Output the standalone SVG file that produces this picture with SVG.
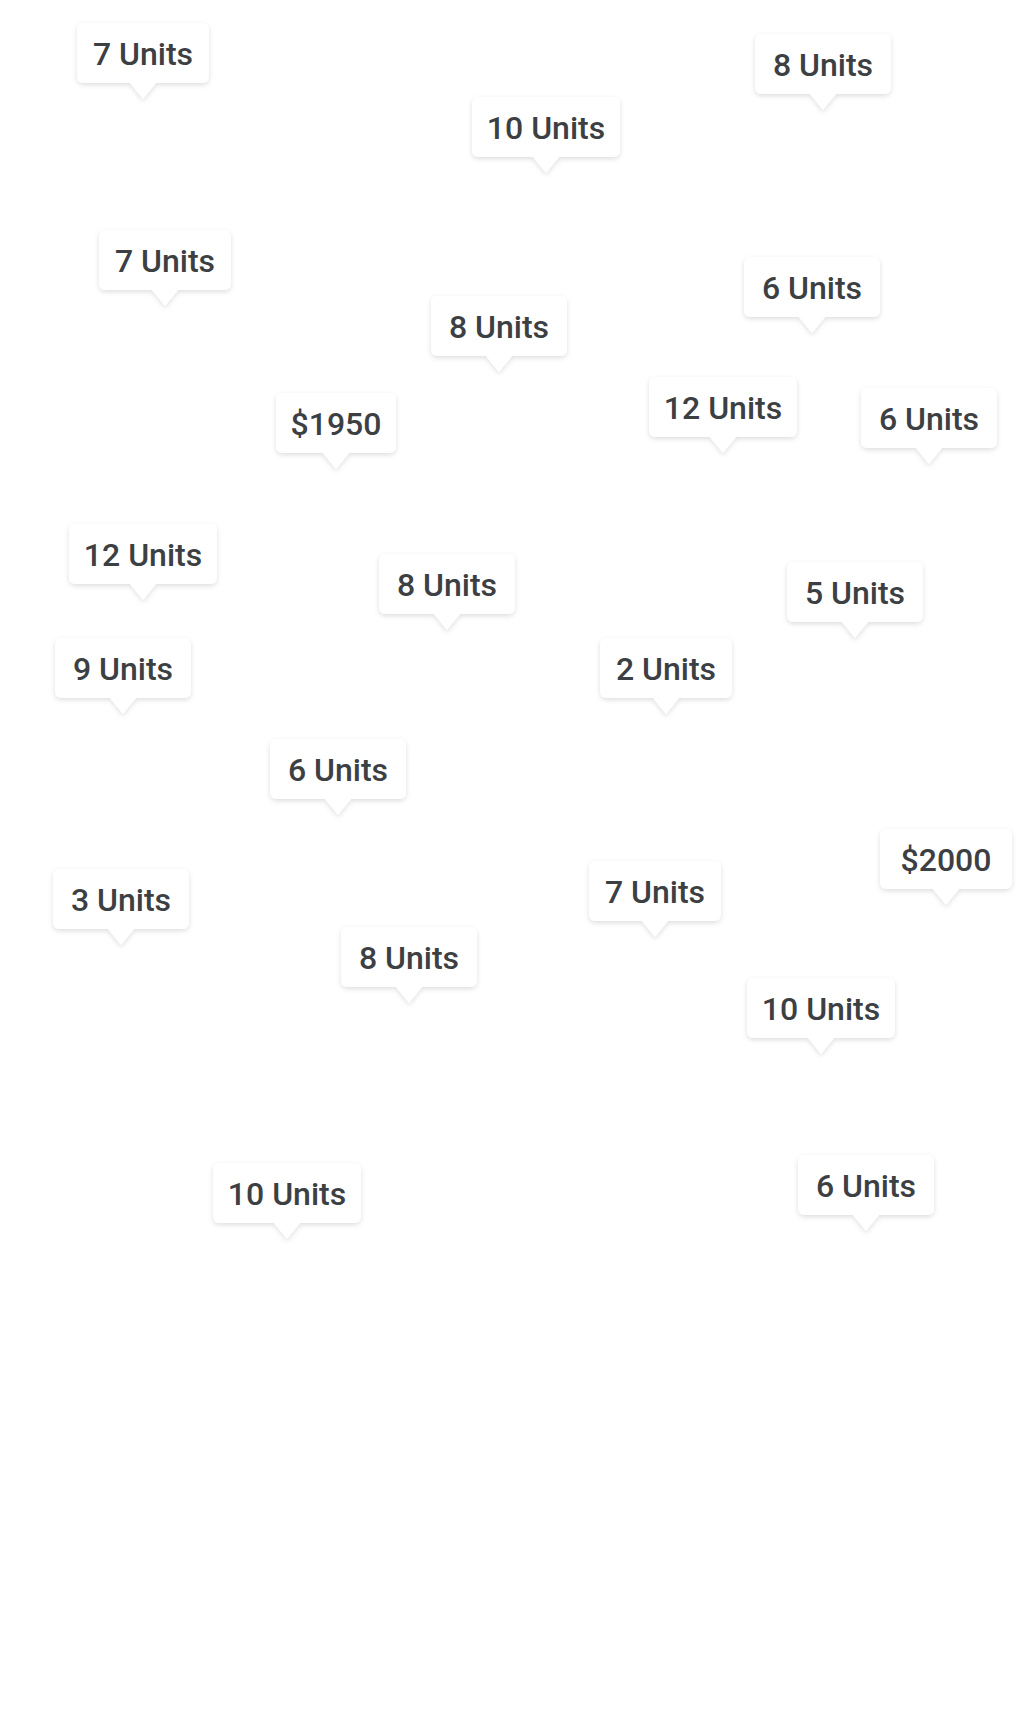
<svg xmlns="http://www.w3.org/2000/svg" xmlns:xlink="http://www.w3.org/1999/xlink" width="1024" height="1732" viewBox="0 0 1024 1732">
<style>
.bub{fill:#ffffff;filter:url(#sh)}
.t{font-family:Roboto,"Open Sans","Liberation Sans",sans-serif;font-size:32px;font-weight:500;fill:#3c4043;text-anchor:middle}
</style>
<defs>
<filter id="sh" x="-20%" y="-20%" width="140%" height="150%">
<feDropShadow dx="0" dy="2" stdDeviation="2.5" flood-color="#000" flood-opacity="0.13"/>
</filter>
<path id="b132" d="M7,0 H125 Q132,0 132,7 V53 Q132,60 125,60 H79 L66,76 L53,60 H7 Q0,60 0,53 V7 Q0,0 7,0 Z"/>
<path id="b136" d="M7,0 H129 Q136,0 136,7 V53 Q136,60 129,60 H81 L68,76 L55,60 H7 Q0,60 0,53 V7 Q0,0 7,0 Z"/>
<path id="b148" d="M7,0 H141 Q148,0 148,7 V53 Q148,60 141,60 H87 L74,76 L61,60 H7 Q0,60 0,53 V7 Q0,0 7,0 Z"/>
<path id="b120" d="M7,0 H113 Q120,0 120,7 V53 Q120,60 113,60 H73 L60,76 L47,60 H7 Q0,60 0,53 V7 Q0,0 7,0 Z"/>
</defs>
<rect width="1024" height="1732" fill="#ffffff"/>
<g id="connectors"/>
<g id="n1" transform="translate(77,23)"><use href="#b132" class="bub"/><text class="t" x="66" y="42">7 Units</text></g>
<g id="n2" transform="translate(755,34)"><use href="#b136" class="bub"/><text class="t" x="68" y="42">8 Units</text></g>
<g id="n3" transform="translate(472,97)"><use href="#b148" class="bub"/><text class="t" x="74" y="42">10 Units</text></g>
<g id="n4" transform="translate(99,230)"><use href="#b132" class="bub"/><text class="t" x="66" y="42">7 Units</text></g>
<g id="n5" transform="translate(744,257)"><use href="#b136" class="bub"/><text class="t" x="68" y="42">6 Units</text></g>
<g id="n6" transform="translate(431,296)"><use href="#b136" class="bub"/><text class="t" x="68" y="42">8 Units</text></g>
<g id="n7" transform="translate(276,393)"><use href="#b120" class="bub"/><text class="t" x="60" y="42">$1950</text></g>
<g id="n8" transform="translate(649,377)"><use href="#b148" class="bub"/><text class="t" x="74" y="42">12 Units</text></g>
<g id="n9" transform="translate(861,388)"><use href="#b136" class="bub"/><text class="t" x="68" y="42">6 Units</text></g>
<g id="n10" transform="translate(69,524)"><use href="#b148" class="bub"/><text class="t" x="74" y="42">12 Units</text></g>
<g id="n11" transform="translate(379,554)"><use href="#b136" class="bub"/><text class="t" x="68" y="42">8 Units</text></g>
<g id="n12" transform="translate(787,562)"><use href="#b136" class="bub"/><text class="t" x="68" y="42">5 Units</text></g>
<g id="n13" transform="translate(55,638)"><use href="#b136" class="bub"/><text class="t" x="68" y="42">9 Units</text></g>
<g id="n14" transform="translate(600,638)"><use href="#b132" class="bub"/><text class="t" x="66" y="42">2 Units</text></g>
<g id="n15" transform="translate(270,739)"><use href="#b136" class="bub"/><text class="t" x="68" y="42">6 Units</text></g>
<g id="n16" transform="translate(53,869)"><use href="#b136" class="bub"/><text class="t" x="68" y="42">3 Units</text></g>
<g id="n17" transform="translate(589,861)"><use href="#b132" class="bub"/><text class="t" x="66" y="42">7 Units</text></g>
<g id="n18" transform="translate(880,829)"><use href="#b132" class="bub"/><text class="t" x="66" y="42">$2000</text></g>
<g id="n19" transform="translate(341,927)"><use href="#b136" class="bub"/><text class="t" x="68" y="42">8 Units</text></g>
<g id="n20" transform="translate(747,978)"><use href="#b148" class="bub"/><text class="t" x="74" y="42">10 Units</text></g>
<g id="n21" transform="translate(798,1155)"><use href="#b136" class="bub"/><text class="t" x="68" y="42">6 Units</text></g>
<g id="n22" transform="translate(213,1163)"><use href="#b148" class="bub"/><text class="t" x="74" y="42">10 Units</text></g>
</svg>
